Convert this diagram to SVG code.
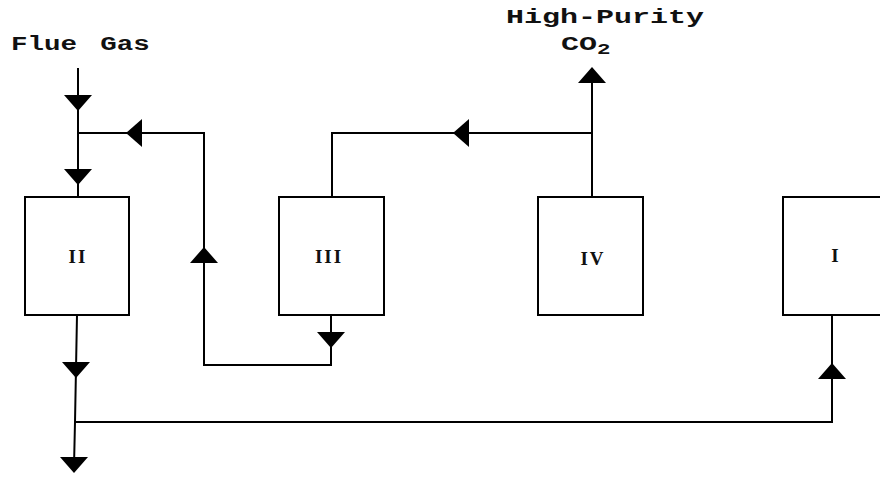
<svg xmlns="http://www.w3.org/2000/svg" width="880" height="477" viewBox="0 0 880 477">
<style>
.box{fill:#fff;stroke:#000;stroke-width:2}
.ln{fill:none;stroke:#000;stroke-width:2}
.lbl{font-family:"Liberation Serif",serif;font-weight:bold;font-size:19px;letter-spacing:2px;text-anchor:middle;fill:#111}
.txt{font-family:"Liberation Mono",monospace;font-weight:bold;font-size:20px;fill:#111}
.ar{fill:#000}
</style>
<defs>
<path id="ad" class="ar" d="M-14,-8 L14,-8 L0,8 Z"/>
</defs>
<rect width="880" height="477" fill="#fff"/>
<g id="connectors">
<path class="ln" d="M78,68 V197"/>
<path class="ln" d="M78,133 H204 V365 H331 V315"/>
<path class="ln" d="M332,197 V133 H592 V70"/>
<path class="ln" d="M592,133 V197"/>
<path class="ln" d="M77,315 L75,422 L74,466"/>
<path class="ln" d="M75,422 H832 V315"/>
<use href="#ad" transform="translate(78,103)"/>
<use href="#ad" transform="translate(78,177)"/>
<use href="#ad" transform="translate(331,340)"/>
<use href="#ad" transform="translate(76,370)"/>
<use href="#ad" transform="translate(74,465)"/>
<use href="#ad" transform="translate(204,255) rotate(180)"/>
<use href="#ad" transform="translate(832,371) rotate(180)"/>
<use href="#ad" transform="translate(592,75) rotate(180)"/>
<use href="#ad" transform="translate(134,133) rotate(90)"/>
<use href="#ad" transform="translate(461,133) rotate(90)"/>
</g>
<g id="node-II">
<rect class="box" x="25" y="197" width="104" height="118"/>
<text class="lbl" x="78" y="263">II</text>
</g>
<g id="node-III">
<rect class="box" x="279" y="197" width="105" height="118"/>
<text class="lbl" x="329" y="263">III</text>
</g>
<g id="node-IV">
<rect class="box" x="538" y="197" width="105" height="118"/>
<text class="lbl" x="593" y="265">IV</text>
</g>
<g id="node-I">
<rect class="box" x="783" y="197" width="106" height="118"/>
<text class="lbl" x="836" y="262">I</text>
</g>
<g id="labels">
<text class="txt" transform="translate(11,50) scale(1.375,1)" word-spacing="5">Flue Gas</text>
<text class="txt" transform="translate(506,23) scale(1.5,1)">High-Purity</text>
<text class="txt" transform="translate(561,50) scale(1.5,1)">CO<tspan font-size="15" dy="4">2</tspan></text>
</g>
</svg>
